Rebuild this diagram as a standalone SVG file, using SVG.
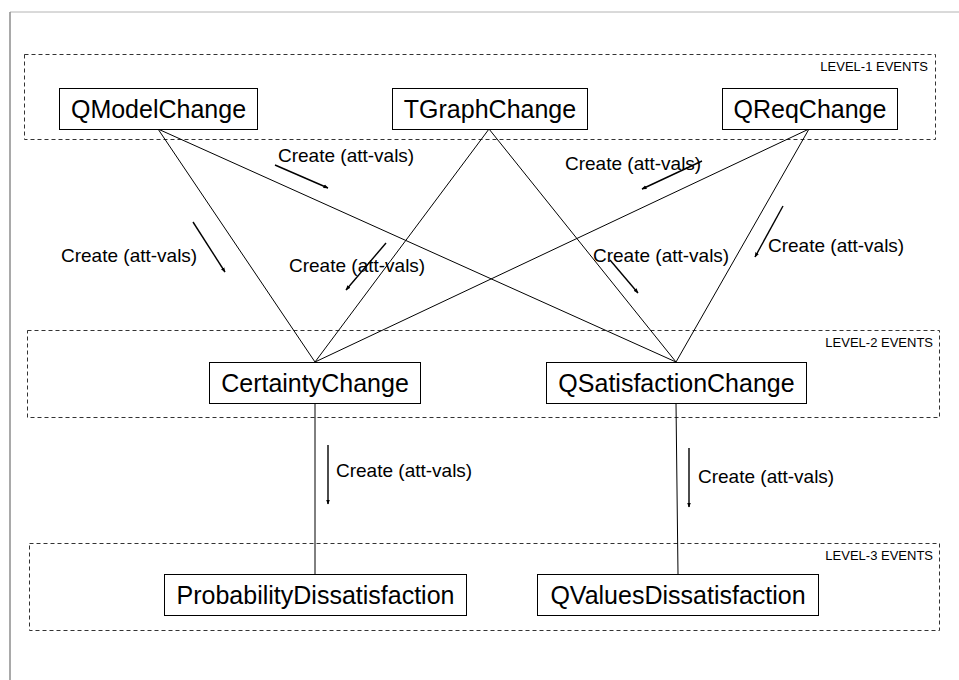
<svg xmlns="http://www.w3.org/2000/svg" width="959" height="680" viewBox="0 0 959 680">
  <defs>
    <marker id="head" viewBox="0 0 10 10" refX="9" refY="5" markerWidth="5" markerHeight="5" orient="auto" markerUnits="userSpaceOnUse">
      <path d="M0,1 L10,5 L0,9 Z" fill="#000"/>
    </marker>
    <style>
      .frame { fill: none; }
      .level { fill: none; stroke: #333; stroke-width: 1; stroke-dasharray: 4 3; }
      .level-label { font-family: "Liberation Sans", Arial, sans-serif; font-size: 13px; fill: #000; text-anchor: end; }
      .node rect { fill: #fff; stroke: #000; stroke-width: 1; }
      .node text { font-family: "Liberation Sans", Arial, sans-serif; font-size: 25px; fill: #000; text-anchor: middle; }
      .link { stroke: #000; stroke-width: 1; fill: none; }
      .flow { stroke: #000; stroke-width: 1.4; fill: none; marker-end: url(#head); }
      .flow-label { font-family: "Liberation Sans", Arial, sans-serif; font-size: 19px; fill: #000; }
    </style>
  </defs>

  <rect width="959" height="680" fill="#fff"/>

  <!-- page frame -->
  <line x1="10" y1="12" x2="959" y2="12" stroke="#b4b4b4" stroke-width="1"/>
  <line x1="10" y1="12" x2="10" y2="680" stroke="#8c8c8c" stroke-width="1.5"/>

  <!-- event level bands -->
  <g id="level-1">
    <rect class="level" x="24.5" y="54.5" width="911" height="85"/>
    <text class="level-label" x="928" y="71">LEVEL-1 EVENTS</text>
  </g>
  <g id="level-2">
    <rect class="level" x="27.5" y="330.5" width="912" height="87"/>
    <text class="level-label" x="933" y="347">LEVEL-2 EVENTS</text>
  </g>
  <g id="level-3">
    <rect class="level" x="29.5" y="543.5" width="910" height="87"/>
    <text class="level-label" x="933" y="560">LEVEL-3 EVENTS</text>
  </g>

  <!-- connectors -->
  <g id="connectors">
    <line class="link" x1="158" y1="129" x2="315" y2="362"/>
    <line class="link" x1="158" y1="129" x2="676" y2="362"/>
    <line class="link" x1="489" y1="129" x2="315" y2="362"/>
    <line class="link" x1="489" y1="129" x2="676" y2="362"/>
    <line class="link" x1="809" y1="129" x2="315" y2="362"/>
    <line class="link" x1="809" y1="129" x2="676" y2="362"/>
    <line class="link" x1="315" y1="403" x2="315" y2="574"/>
    <line class="link" x1="676" y1="403" x2="678" y2="574"/>

    <!-- direction arrows with labels -->
    <line class="flow" x1="193" y1="222" x2="225" y2="272"/>
    <text class="flow-label" x="61" y="262">Create (att-vals)</text>

    <line class="flow" x1="275" y1="165" x2="328" y2="188"/>
    <text class="flow-label" x="278" y="162">Create (att-vals)</text>

    <line class="flow" x1="386" y1="243" x2="346" y2="290"/>
    <text class="flow-label" x="289" y="272">Create (att-vals)</text>

    <line class="flow" x1="702" y1="161" x2="642" y2="189"/>
    <text class="flow-label" x="565" y="170">Create (att-vals)</text>

    <line class="flow" x1="783" y1="206" x2="755" y2="257"/>
    <text class="flow-label" x="768" y="252">Create (att-vals)</text>

    <line class="flow" x1="610" y1="260" x2="638" y2="293"/>
    <text class="flow-label" x="593" y="262">Create (att-vals)</text>

    <line class="flow" x1="328" y1="445" x2="328" y2="504"/>
    <text class="flow-label" x="336" y="477">Create (att-vals)</text>

    <line class="flow" x1="689" y1="448" x2="689" y2="507"/>
    <text class="flow-label" x="698" y="483">Create (att-vals)</text>
  </g>

  <!-- level-1 nodes -->
  <g id="QModelChange" class="node">
    <rect x="59.5" y="88.5" width="198" height="41"/>
    <text x="158.5" y="118">QModelChange</text>
  </g>
  <g id="TGraphChange" class="node">
    <rect x="392.5" y="88.5" width="195" height="41"/>
    <text x="490" y="118">TGraphChange</text>
  </g>
  <g id="QReqChange" class="node">
    <rect x="722.5" y="88.5" width="175" height="41"/>
    <text x="810" y="118">QReqChange</text>
  </g>

  <!-- level-2 nodes -->
  <g id="CertaintyChange" class="node">
    <rect x="209.5" y="362.5" width="211" height="41"/>
    <text x="315" y="392">CertaintyChange</text>
  </g>
  <g id="QSatisfactionChange" class="node">
    <rect x="546.5" y="362.5" width="260" height="41"/>
    <text x="676.5" y="392">QSatisfactionChange</text>
  </g>

  <!-- level-3 nodes -->
  <g id="ProbabilityDissatisfaction" class="node">
    <rect x="164.5" y="574.5" width="302" height="41"/>
    <text x="315.5" y="604">ProbabilityDissatisfaction</text>
  </g>
  <g id="QValuesDissatisfaction" class="node">
    <rect x="537.5" y="574.5" width="281" height="41"/>
    <text x="678" y="604">QValuesDissatisfaction</text>
  </g>
</svg>
